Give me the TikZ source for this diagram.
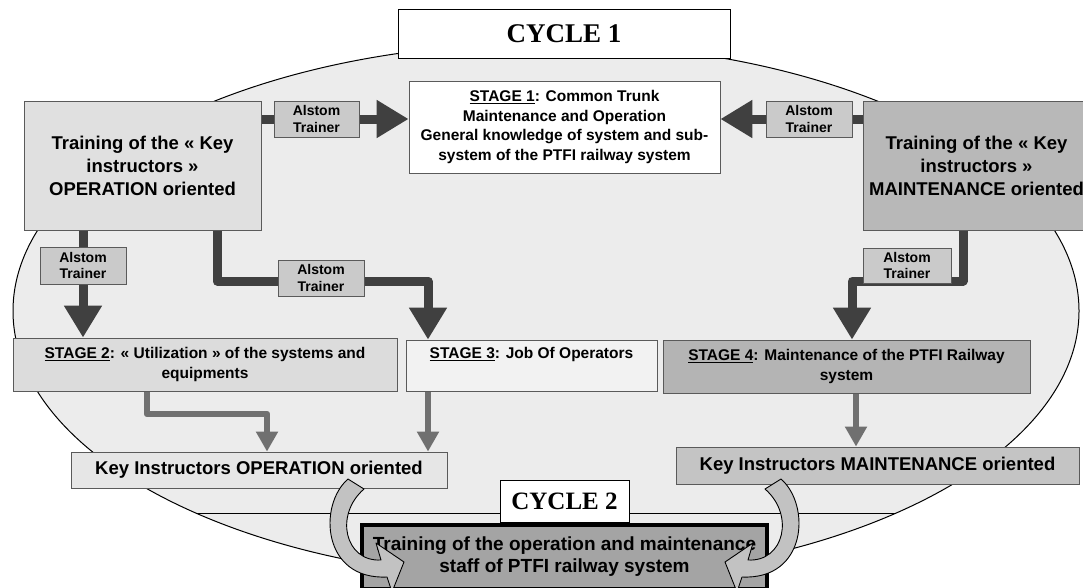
\documentclass[tikz,border=0pt]{standalone}
\usepackage{fontspec}
\setmainfont{Liberation Sans}
\newfontfamily\serifface{Liberation Serif}
\usetikzlibrary{arrows.meta}
\pgfdeclarelayer{back}
\pgfdeclarelayer{mid}
\pgfsetlayers{back,mid,main}

\definecolor{ovalfill}{HTML}{ECECEC}
\definecolor{opfill}{HTML}{E0E0E0}
\definecolor{mtfill}{HTML}{B8B8B8}
\definecolor{stwofill}{HTML}{DCDCDC}
\definecolor{sthreefill}{HTML}{F2F2F2}
\definecolor{sfourfill}{HTML}{B4B4B4}
\definecolor{kofill}{HTML}{E6E6E6}
\definecolor{kmfill}{HTML}{C4C4C4}
\definecolor{trainfill}{HTML}{CACACA}
\definecolor{ctwofill}{HTML}{A4A4A4}
\definecolor{bendfill}{HTML}{C2C2C2}
\definecolor{thickcol}{HTML}{404040}
\definecolor{thincol}{HTML}{707070}
\definecolor{boxline}{HTML}{5A5A5A}

\newcommand\fbig{\fontsize{18.5}{23}\selectfont\bfseries}
\newcommand\fstage{\fontsize{15.5}{19.5}\selectfont\bfseries}
\newcommand\ftrain{\fontsize{14}{16.5}\selectfont\bfseries}
\newcommand\fkey{\fontsize{18.5}{22}\selectfont\bfseries}
\newcommand\fctwo{\fontsize{19}{22}\selectfont\bfseries}
\newcommand\fcycle{\serifface\fontsize{27}{30}\selectfont\bfseries}

\tikzset{
  box/.style={draw=boxline, line width=0.8pt, inner sep=0pt, align=center, text=black},
  trainer/.style={box, fill=trainfill, font=\ftrain},
  stagebox/.style={box, font=\fstage},
  thickconn/.style={draw=thickcol, line width=9pt, line join=round,
    -{Triangle[width=36pt,length=32pt]}},
  thinconn/.style={draw=thincol, line width=6.5pt, line join=round,
    -{Triangle[width=21pt,length=20pt]}},
  bendarrow/.pic={
    \draw[fill=bendfill, line width=0.9pt, line join=round]
      (348,479) .. controls (318,505) and (322,580) .. (387,577)
      -- (392,592) -- (404,562) -- (376,543) -- (381,560)
      .. controls (345,562) and (334,515) .. (364,489) -- cycle;
  }
}

\begin{document}
\begin{tikzpicture}[x=1pt,y=-1pt]
\useasboundingbox (0,0) rectangle (1083,587);

% page background, the oval of the first cycle and its lower chord
\begin{pgfonlayer}{back}
  \fill[white] (0,0) rectangle (1083,587);
  \draw[fill=ovalfill, line width=1pt] (546,311) ellipse [x radius=533pt, y radius=268pt];
  \begin{scope}
    \clip (546,311) ellipse [x radius=533pt, y radius=268pt];
    \draw[line width=0.9pt] (0,513) -- (1083,513);
  \end{scope}
\end{pgfonlayer}

% key instructor training boxes
\node[box, fill=opfill, minimum width=237pt, minimum height=129pt, font=\fbig] (A) at (142.5,165.5)
  {Training of the « Key\\instructors »\\OPERATION oriented};
\node[box, fill=mtfill, minimum width=227pt, minimum height=129pt, font=\fbig] (M) at (976.5,165.5)
  {Training of the « Key\\instructors »\\MAINTENANCE oriented};

% stages
\node[stagebox, fill=white, minimum width=311pt, minimum height=92pt] (S1) at (564.5,127)
  {\underline{STAGE 1}: Common Trunk\\Maintenance and Operation\\General knowledge of system and sub-\\system of the PTFI railway system};
\node[stagebox, fill=stwofill, minimum width=384pt, minimum height=53pt] (S2) at (205,364.5)
  {\underline{STAGE 2}: « Utilization » of the systems and\\equipments};
\node[stagebox, fill=sthreefill, minimum width=251pt, minimum height=51pt] (S3) at (531.5,365.5)
  {\underline{STAGE 3}: Job Of Operators\\\strut};
\node[stagebox, fill=sfourfill, minimum width=367pt, minimum height=53pt] (S4) at (846.5,366.5)
  {\underline{STAGE 4}: Maintenance of the PTFI Railway\\system};

% trainer labels on the connectors
\node[trainer, minimum width=85pt, minimum height=36pt] (t1) at (316.5,119) {Alstom\\Trainer};
\node[trainer, minimum width=86pt, minimum height=36pt] (t2) at (809,119) {Alstom\\Trainer};
\node[trainer, minimum width=86pt, minimum height=37pt] (t3) at (83,265.5) {Alstom\\Trainer};
\node[trainer, minimum width=86pt, minimum height=36pt] (t4) at (321,278) {Alstom\\Trainer};
\node[trainer, minimum width=88pt, minimum height=35pt] (t5) at (907,265.5) {Alstom\\Trainer};

% resulting key instructors
\node[box, fill=kofill, minimum width=376pt, minimum height=36pt, font=\fkey] (KO) at (259,470)
  {Key Instructors OPERATION oriented};
\node[box, fill=kmfill, minimum width=403pt, minimum height=37pt, font=\fkey] (KM) at (877.5,465.5)
  {Key Instructors MAINTENANCE oriented};

% cycle titles
\node[draw=black, line width=0.8pt, fill=white, minimum width=332pt, minimum height=49pt, inner sep=0pt,
  font=\fcycle] (C1) at (564,33.5) {CYCLE 1};
\node[draw=black, line width=0.8pt, fill=white, minimum width=129pt, minimum height=42pt, inner sep=0pt,
  font=\fcycle\fontsize{25}{28}\selectfont] (C2lab) at (564.5,501) {CYCLE 2};

% second cycle box
\node[draw=black, line width=4pt, fill=ctwofill, minimum width=405pt, minimum height=64pt, inner sep=0pt,
  align=center, font=\fctwo] (C2) at (564.5,557)
  {Training of the operation and maintenance\\staff of PTFI railway system};

% connector bends
\coordinate (j1) at (217,281);
\coordinate (j2) at (428,281);
\coordinate (j3) at (963,281);
\coordinate (j4) at (852,281);
\coordinate (j5) at (147,414);
\coordinate (j6) at (267,414);
\coordinate (j7) at (856,414);

\begin{pgfonlayer}{mid}
  \draw[thickconn] (A.east |- t1) -- (S1.west |- t1);
  \draw[thickconn] (M.west |- t2) -- (S1.east |- t2);
  \draw[thickconn] (A.south -| t3) -- (S2.north -| t3);
  \draw[thickconn] (A.south -| j1) -- (j1) -- (j2) -- (S3.north -| j2);
  \draw[thickconn] (M.south -| j3) -- (j3) -- (j4) -- (S4.north -| j4);
  \draw[thinconn] (S2.south -| j5) -- (j5) -- (j6) -- (KO.north -| j6);
  \draw[thinconn] (S3.south -| j2) -- (KO.north -| j2);
  \draw[thinconn] (S4.south -| j7) -- (KM.north -| j7);
\end{pgfonlayer}

% curved arrows into the second cycle
\pic at (0,0) {bendarrow};
\pic[xscale=-1] at (1129,0) {bendarrow};
\end{tikzpicture}
\end{document}
